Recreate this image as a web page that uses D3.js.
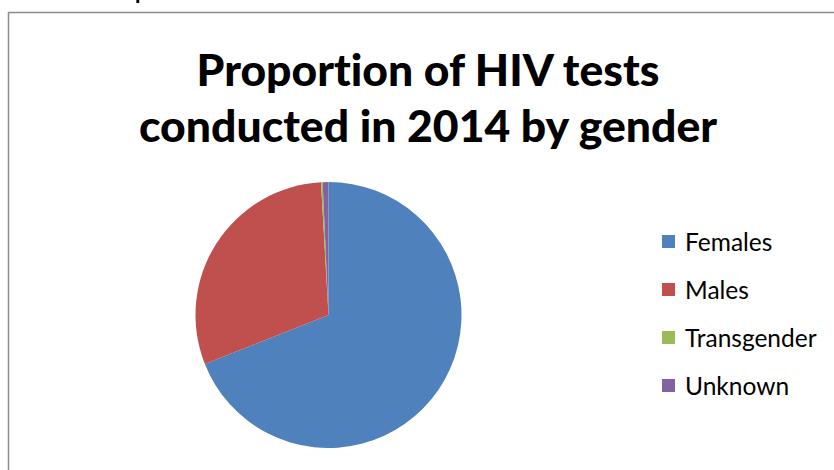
<!DOCTYPE html>
<html>
<head>
<meta charset="utf-8">
<script src="https://cdn.jsdelivr.net/npm/d3@7"></script>
<style>
  body { margin: 0; background: #fff; }
  svg { display: block; }
  text { font-variant-ligatures: none; font-feature-settings: "liga" 0, "clig" 0; }
</style>
</head>
<body>
<svg id="chart" width="834" height="470"></svg>
<script>
// data (percent of tests)
var genders = ["Females", "Males", "Transgender", "Unknown"];
var shares = [69.0, 30.1, 0.2, 0.7];
var colours = ["#4F81BD", "#C0504D", "#9BBB59", "#8064A2"];
var titleLines = ["Proportion of HIV tests", "conducted in 2014 by gender"];

var svg = d3.select("#chart");

// chart frame (runs off the right and bottom of the picture)
svg.append("rect")
  .attr("x", 8.5).attr("y", 12.5)
  .attr("width", 900).attr("height", 500)
  .attr("fill", "#fff")
  .attr("stroke", "#8c8c8c")
  .attr("stroke-width", 1.5);

// descender of the text above the frame
svg.append("text")
  .attr("x", 135).attr("y", -1)
  .attr("font-family", "Lato, sans-serif")
  .attr("font-weight", "bold")
  .attr("font-size", 22)
  .text("p");

// title
svg.append("g")
  .selectAll("text")
  .data(titleLines)
  .join("text")
  .attr("x", 428)
  .attr("y", function(d, i) { return 86 + i * 56; })
  .attr("text-anchor", "middle")
  .attr("font-family", "Lato, 'Open Sans', sans-serif")
  .attr("font-weight", 900)
  .attr("font-size", 44.5)
  .attr("fill", "#000")
  .text(function(d) { return d; });

// pie
var data = genders.map(function(g, i) { return { name: g, value: shares[i] }; });

var color = d3.scaleOrdinal().domain(genders).range(colours);

var pie = d3.pie()
  .sort(null)
  .value(function(d) { return d.value; });

var arc = d3.arc().innerRadius(0).outerRadius(133);

var g = svg.append("g").attr("transform", "translate(328.5,315)");

g.selectAll("path")
  .data(pie(data))
  .join("path")
  .attr("d", arc)
  .attr("fill", function(d) { return color(d.data.name); });

// legend
var legend = svg.append("g").attr("transform", "translate(662,242)");

var rows = legend.selectAll("g")
  .data(genders)
  .join("g")
  .attr("transform", function(d, i) { return "translate(0," + i * 48 + ")"; });

rows.append("rect")
  .attr("x", 0).attr("y", -7)
  .attr("width", 13).attr("height", 13)
  .attr("fill", function(d) { return color(d); });

rows.append("text")
  .attr("x", 23).attr("y", 0)
  .attr("dy", "0.35em")
  .attr("font-family", "Lato, 'Open Sans', sans-serif")
  .attr("font-size", 24.5)
  .attr("fill", "#000")
  .text(function(d) { return d; });
</script>
</body>
</html>
